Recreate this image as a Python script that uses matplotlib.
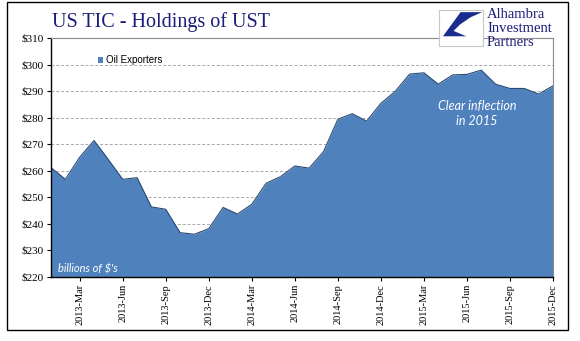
from __future__ import annotations

import matplotlib

matplotlib.use("Agg")
import matplotlib.pyplot as plt
from matplotlib.patches import Polygon, Rectangle

W_PX = 580
H_PX = 341
DPI = 100

FILL_COLOR = "#4F81BD"
EDGE_COLOR = "#2B4A72"
NAVY = "#1B1B78"

# Monthly holdings, Jan 2013 .. Dec 2015, billions of USD
MONTHS = [
    "2013-Jan", "2013-Feb", "2013-Mar", "2013-Apr", "2013-May", "2013-Jun",
    "2013-Jul", "2013-Aug", "2013-Sep", "2013-Oct", "2013-Nov", "2013-Dec",
    "2014-Jan", "2014-Feb", "2014-Mar", "2014-Apr", "2014-May", "2014-Jun",
    "2014-Jul", "2014-Aug", "2014-Sep", "2014-Oct", "2014-Nov", "2014-Dec",
    "2015-Jan", "2015-Feb", "2015-Mar", "2015-Apr", "2015-May", "2015-Jun",
    "2015-Jul", "2015-Aug", "2015-Sep", "2015-Oct", "2015-Nov", "2015-Dec",
]
OIL_EXPORTERS = [
    261.2, 256.8, 265.1, 271.4, 264.2, 256.8,
    257.4, 246.4, 245.5, 236.7, 236.1, 238.2,
    246.2, 243.7, 247.4, 255.3, 257.8, 261.8,
    261.0, 267.2, 279.4, 281.5, 278.7, 285.4,
    289.9, 296.4, 296.9, 292.6, 296.1, 296.3,
    297.9, 292.6, 291.0, 291.0, 288.9, 292.0,
]
Y_TICKS = [220, 230, 240, 250, 260, 270, 280, 290, 300, 310]


def px(x: float, y: float) -> tuple[float, float]:
    """Pixel position (from top-left) -> figure fraction."""
    return x / W_PX, 1 - y / H_PX


def draw_logo(fig) -> None:
    # small boxed emblem + firm name, top right
    x0, y1 = px(439, 10)
    x1, y0 = px(483, 46)
    box = fig.add_axes([x0, y0, x1 - x0, y1 - y0])
    box.set_xlim(0, 1)
    box.set_ylim(0, 1)
    box.set_xticks([])
    box.set_yticks([])
    for s in box.spines.values():
        s.set_color("#C8C8C8")
        s.set_linewidth(0.8)
    swoosh = [
        (0.49, 0.94), (0.98, 0.94), (0.72, 0.80), (0.48, 0.60),
        (0.33, 0.42), (0.62, 0.27), (0.09, 0.27),
    ]
    box.add_patch(Polygon(swoosh, closed=True, color="#1A2D8F", lw=0))

    for i, word in enumerate(["Alhambra", "Investment", "Partners"]):
        fx, fy = px(487, 15 + i * 13.5)
        fig.text(fx, fy, word, family="Liberation Serif", fontsize=10.5,
                 color=NAVY, va="center", ha="left")


def main() -> None:
    fig = plt.figure(figsize=(W_PX / DPI, H_PX / DPI), dpi=DPI)

    # outer frame of the picture
    fig.add_artist(Rectangle(px(7, 330), 561 / W_PX, 328 / H_PX,
                             transform=fig.transFigure, fill=False,
                             edgecolor="black", lw=1.0))

    left, top = px(51, 38)
    right, bottom = px(553, 277)
    ax = fig.add_axes([left, bottom, right - left, top - bottom])

    x = list(range(len(OIL_EXPORTERS)))
    ax.fill_between(x, OIL_EXPORTERS, Y_TICKS[0], color=FILL_COLOR,
                    lw=0, zorder=2, label="Oil Exporters")
    ax.plot(x, OIL_EXPORTERS, color=EDGE_COLOR, lw=0.8, zorder=3)

    ax.set_xlim(0, len(x) - 1)
    ax.set_ylim(Y_TICKS[0], Y_TICKS[-1])

    ax.set_yticks(Y_TICKS)
    ax.set_yticklabels([f"${v}" for v in Y_TICKS],
                       family="Liberation Serif", fontsize=8)
    tick_idx = list(range(2, len(x), 3))
    ax.set_xticks(tick_idx)
    ax.set_xticklabels([MONTHS[i] for i in tick_idx], rotation=90,
                       family="Liberation Serif", fontsize=7.5)
    ax.tick_params(axis="both", direction="out", length=3, width=0.8,
                   color="black", pad=2)

    for v in Y_TICKS[1:-1]:
        ax.axhline(v, color="#A8A8A8", lw=0.7, ls=(0, (3, 2)), zorder=1)

    ax.spines["left"].set_color("black")
    ax.spines["bottom"].set_color("black")
    ax.spines["left"].set_linewidth(1.0)
    ax.spines["bottom"].set_linewidth(1.0)
    ax.spines["top"].set_color("#8C8C8C")
    ax.spines["right"].set_color("#8C8C8C")
    ax.spines["top"].set_linewidth(0.8)
    ax.spines["right"].set_linewidth(0.8)
    for s in ax.spines.values():
        s.set_zorder(4)

    leg = ax.legend(loc="upper left", bbox_to_anchor=(0.085, 0.945),
                    frameon=False, handlelength=0.6, handleheight=0.6,
                    handletextpad=0.3, borderaxespad=0,
                    prop={"family": "Liberation Sans", "size": 7})
    leg.legend_handles[0].set_edgecolor(EDGE_COLOR)

    ax.text(0.014, 0.02, "billions of $'s", transform=ax.transAxes,
            color="white", style="italic", family="Lato", fontsize=8,
            va="baseline", zorder=5)
    ax.text(29.7, 281.6, "Clear inflection\nin 2015", color="white",
            style="italic", family="Lato", fontsize=9,
            ha="center", va="center", linespacing=1.3, zorder=5)

    tx, ty = px(161, 22)
    fig.text(tx, ty, "US TIC - Holdings of UST", family="Liberation Serif",
             fontsize=14.5, color=NAVY, ha="center", va="center")

    draw_logo(fig)

    fig.savefig("out.png", dpi=DPI)
    plt.close(fig)


if __name__ == "__main__":
    main()
